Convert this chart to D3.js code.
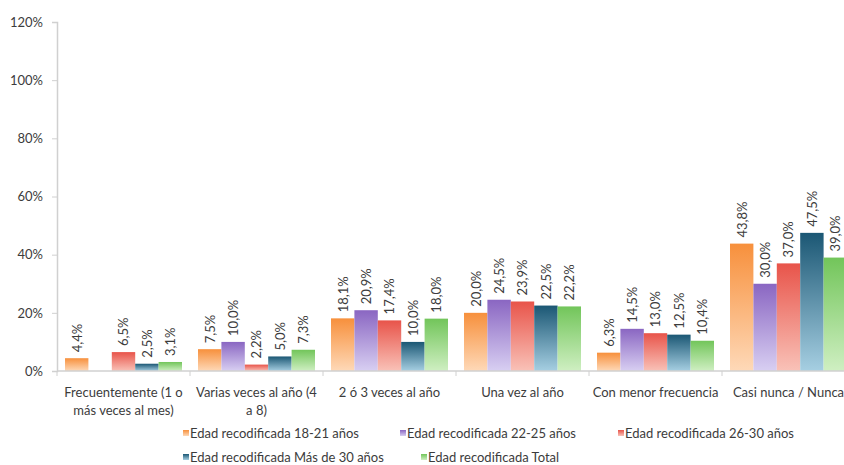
<!DOCTYPE html>
<html><head><meta charset="utf-8">
<script src="https://cdn.jsdelivr.net/npm/d3@7"></script>
<style>
body{margin:0;background:#fff;}
svg{display:block;font-family:Lato,"Open Sans",sans-serif;}
</style></head>
<body><svg id="c" width="844" height="465"></svg>
<script>
const categories = [
  ["Frecuentemente (1 o","más veces al mes)"],
  ["Varias veces al año (4","a 8)"],
  ["2 ó 3 veces al año"],
  ["Una vez al año"],
  ["Con menor frecuencia"],
  ["Casi nunca / Nunca"]
];
const seriesNames = [
  "Edad recodificada 18-21 años",
  "Edad recodificada 22-25 años",
  "Edad recodificada 26-30 años",
  "Edad recodificada Más de 30 años",
  "Edad recodificada Total"
];
const s1821 = [4.4, 7.5, 18.1, 20.0, 6.3, 43.8];
const s2225 = [null, 10.0, 20.9, 24.5, 14.5, 30.0];
const s2630 = [6.5, 2.2, 17.4, 23.9, 13.0, 37.0];
const s30mas = [2.5, 5.0, 10.0, 22.5, 12.5, 47.5];
const sTotal = [3.1, 7.3, 18.0, 22.2, 10.4, 39.0];
const yTicks = [0, 20, 40, 60, 80, 100, 120];

const seriesValues = [s1821, s2225, s2630, s30mas, sTotal];
const colorsTop = ["#f7903c", "#8a66c2", "#e8544a", "#1b5774", "#72c55a"];
const colorsBottom = ["#fed9b8", "#d8cff2", "#f9c2b8", "#a6cfe2", "#cfefc2"];

const svg = d3.select("#c");
const defs = svg.append("defs");
colorsTop.forEach((c, i) => {
  const g = defs.append("linearGradient").attr("id", "g" + i)
    .attr("x1", 0).attr("y1", 0).attr("x2", 0).attr("y2", 1);
  g.append("stop").attr("offset", "0%").attr("stop-color", c);
  g.append("stop").attr("offset", "100%").attr("stop-color", colorsBottom[i]);
});

const mLeft = 57, mTop = 22, mBottom = 371, mRight = 855;
const y = d3.scaleLinear().domain([0, 120]).range([mBottom, mTop]);
const x0 = d3.scaleBand().domain(d3.range(categories.length)).range([mLeft, mRight]);
const x1 = d3.scaleBand().domain(d3.range(seriesNames.length)).range([8, x0.bandwidth() - 8]);

// y axis
const yAxis = d3.axisLeft(y).tickValues(yTicks).tickSize(5).tickPadding(9).tickFormat(d => d + "%");
const ya = svg.append("g").attr("transform", `translate(${mLeft},0)`).call(yAxis);
ya.select(".domain").attr("stroke", "#d0d0d0").attr("stroke-width", 1.5);
ya.selectAll(".tick line").attr("stroke", "#d0d0d0");
ya.selectAll(".tick text").attr("fill", "#3c3c3c").style("font-size", "13px").style("font-family", "Lato,'Open Sans',sans-serif");

// bars
const groups = svg.append("g").selectAll("g").data(categories).join("g")
  .attr("transform", (d, i) => `translate(${x0(i)},0)`);
seriesValues.forEach((vals, si) => {
  groups.each(function(d, ci) {
    const v = vals[ci];
    if (v == null) return;
    const g = d3.select(this);
    g.append("rect")
      .attr("x", x1(si)).attr("width", x1.bandwidth())
      .attr("y", y(v)).attr("height", y(0) - y(v))
      .attr("fill", `url(#g${si})`);
    const cx = x1(si) + x1.bandwidth() / 2;
    g.append("text")
      .attr("transform", `translate(${cx + 4.8},${y(v) - 6}) rotate(-90)`)
      .attr("text-anchor", "start")
      .attr("fill", "#3c3c3c")
      .style("font-size", "13px")
      .text(v.toFixed(1).replace(".", ",") + "%");
  });
});

// x axis
const xa = svg.append("g");
xa.append("line").attr("x1", mLeft).attr("x2", mRight).attr("y1", y(0)).attr("y2", y(0))
  .attr("stroke", "#d0d0d0").attr("stroke-width", 1.5);
d3.range(categories.length + 1).forEach(i => {
  const xx = i < categories.length ? x0(i) : mRight;
  xa.append("line").attr("x1", xx).attr("x2", xx).attr("y1", y(0)).attr("y2", y(0) + 5)
    .attr("stroke", "#d0d0d0");
});
categories.forEach((lines, i) => {
  const t = xa.append("text").attr("text-anchor", "middle").attr("fill", "#3c3c3c")
    .style("font-size", "13px");
  lines.forEach((ln, k) => {
    t.append("tspan").attr("x", x0(i) + x0.bandwidth() / 2).attr("y", 397 + k * 18).text(ln);
  });
});

// legend
const legendPos = [[190, 438], [407, 438], [625, 438], [190, 462], [428, 462]];
seriesNames.forEach((n, i) => {
  const [lx, ly] = legendPos[i];
  svg.append("rect").attr("x", lx - 7).attr("y", ly - 8).attr("width", 6).attr("height", 6)
    .attr("fill", `url(#g${i})`);
  svg.append("text").attr("x", lx).attr("y", ly).attr("fill", "#3c3c3c")
    .style("font-size", "13px").text(n);
});
</script></body></html>
